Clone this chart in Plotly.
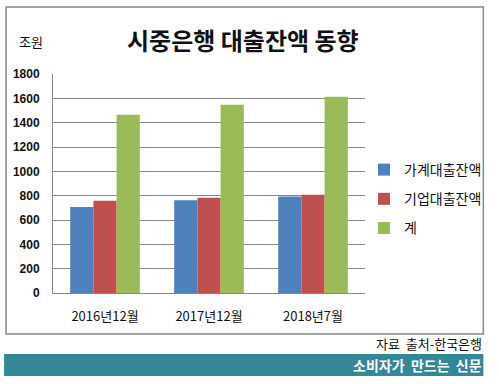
import plotly.graph_objects as go

categories = ["2016년12월", "2017년12월", "2018년7월"]
household = [707, 762, 794]
corporate = [758, 783, 808]
total = [1465, 1547, 1613]
series_names = ["가계대출잔액", "기업대출잔액", "계"]
colors = ["#4f81bd", "#c0504d", "#9bbb59"]
y_ticks = [0, 200, 400, 600, 800, 1000, 1200, 1400, 1600, 1800]

W, H = 499, 384
L, R, T, B = 53, 127, 74, 91
PW, PH = W - L - R, H - T - B

def px(x):
    return (x - L) / PW

def py(y):
    return (H - B - y) / PH

KR = "Noto Sans CJK KR"

fig = go.Figure()
for name, vals, c in zip(series_names, [household, corporate, total], colors):
    fig.add_trace(go.Bar(x=categories, y=vals, name=name, marker_color=c,
                         marker_line_width=0, legendgroup=name))

fig.update_layout(
    width=W, height=H,
    margin=dict(l=L, r=R, t=T, b=B, pad=0),
    paper_bgcolor="white", plot_bgcolor="white",
    barmode="group", bargap=0.33, bargroupgap=0,
    showlegend=True,
    legend=dict(x=px(371), y=py(154), xanchor="left", yanchor="top",
                font=dict(family=KR, size=14, color="#111"),
                traceorder="grouped", tracegroupgap=8,
                itemwidth=30, bgcolor="rgba(0,0,0,0)"),
    xaxis=dict(showgrid=False, showline=True, linecolor="#888", linewidth=1,
               ticks="", tickfont=dict(family=KR, size=13, color="#111"),
               ticklabelstandoff=11),
    yaxis=dict(range=[0, 1800], tickvals=y_ticks, showgrid=True,
               gridcolor="#888", gridwidth=1, showline=True, linecolor="#888",
               linewidth=1, zeroline=False, ticks="",
               tickfont=dict(family="Liberation Sans", size=12, color="#111", weight="bold"),
               ticklabelstandoff=10),
)

shapes = [
    dict(type="rect", xref="paper", yref="paper", x0=px(5), x1=px(493), y0=py(334), y1=py(7),
         line=dict(color="#888", width=1.5), fillcolor="rgba(0,0,0,0)", layer="below"),
    dict(type="rect", xref="paper", yref="paper", x0=px(3), x1=px(493), y0=py(376), y1=py(354),
         line=dict(width=0), fillcolor="#348797"),
]
fig.update_layout(shapes=shapes)

fig.add_annotation(text="시중은행 대출잔액 동향", xref="paper", yref="paper",
                   x=px(247), y=py(40), xanchor="center", yanchor="middle", showarrow=False,
                   font=dict(family=KR, size=24, color="#111", weight="bold"))
fig.add_annotation(text="조원", xref="paper", yref="paper",
                   x=px(16), y=py(41), xanchor="left", yanchor="middle", showarrow=False,
                   font=dict(family=KR, size=13, color="#111"))
fig.add_annotation(text="자료  출처-한국은행", xref="paper", yref="paper",
                   x=px(494), y=py(343), xanchor="right", yanchor="middle", showarrow=False,
                   font=dict(family=KR, size=13, color="#111"))
fig.add_annotation(text="소비자가  만드는  신문", xref="paper", yref="paper",
                   x=px(494), y=py(365), xanchor="right", yanchor="middle", showarrow=False,
                   font=dict(family=KR, size=14, color="white", weight="bold"))

fig.write_html("out.html", config={"displayModeBar": False},
               post_script="document.body.style.margin='0';document.body.style.overflow='hidden';")
